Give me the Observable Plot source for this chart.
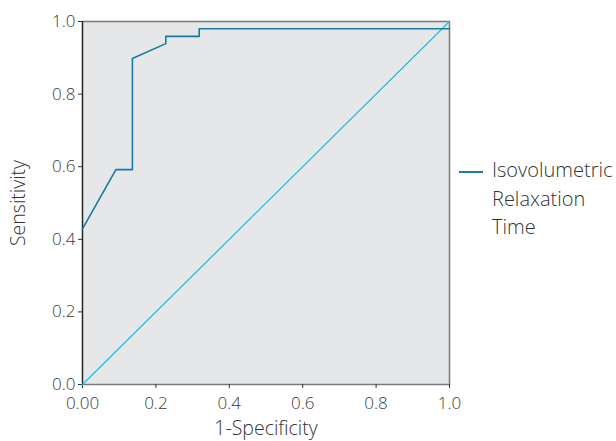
<!DOCTYPE html>
<html>
<head>
<meta charset="utf-8">
<script src="https://cdn.jsdelivr.net/npm/d3@7"></script>
<script src="https://cdn.jsdelivr.net/npm/@observablehq/plot@0.6"></script>
<style>
  html, body { margin: 0; padding: 0; background: #fff; }
  #wrap { position: relative; width: 616px; height: 441px; font-family: "Open Sans", sans-serif; font-weight: 300; }
  #legend { position: absolute; left: 459px; top: 156px; display: flex; align-items: flex-start; color: #333; font-size: 20px; line-height: 28.5px; white-space: nowrap; }
  #legend .sw { width: 24px; height: 0; border-top: 2px solid #1b7aa0; margin-top: 15px; margin-right: 9px; }
</style>
</head>
<body>
<div id="wrap"></div>
<script>
// ROC curve
const fpr  = [0.000, 0.091, 0.136, 0.136, 0.227, 0.227, 0.318, 0.318, 1.000];
const sens = [0.429, 0.592, 0.592, 0.898, 0.939, 0.959, 0.959, 0.980, 0.980];
const refX = [0, 1];
const refY = [0, 1];
const xTicks = [0, 0.2, 0.4, 0.6, 0.8, 1.0];
const xTickLabels = ["0.00", "0.2", "0.4", "0.6", "0.8", "1.0"];
const yTicks = [0, 0.2, 0.4, 0.6, 0.8, 1.0];
const yTickLabels = ["0.0", "0.2", "0.4", "0.6", "0.8", "1.0"];
const xTitle = "1-Specificity";
const yTitle = "Sensitivity";
const seriesName = ["Isovolumetric", "Relaxation", "Time"];

const roc = fpr.map((x, i) => ({x, y: sens[i]}));
const ref = refX.map((x, i) => ({x, y: refY[i]}));

const chart = Plot.plot({
  width: 616,
  height: 441,
  marginLeft: 82,
  marginRight: 167,
  marginTop: 21,
  marginBottom: 57,
  style: {fontFamily: "'Open Sans', sans-serif", fontWeight: 300, fontSize: "17px", color: "#3a3a3a", background: "#fff"},
  x: {domain: [0, 1]},
  y: {domain: [0, 1]},
  marks: [
    Plot.frame({fill: "#e6e7e8", stroke: "#7a7a7a", strokeWidth: 1.5}),
    Plot.axisX({ticks: xTicks, tickFormat: (d, i) => xTickLabels[i], tickSize: 4, tickPadding: 8, stroke: "#333",
      fill: "#3a3a3a", label: null, fontSize: 17}),
    Plot.axisY({ticks: yTicks, tickFormat: (d, i) => yTickLabels[i], tickSize: 4, tickPadding: 3, stroke: "#333",
      fill: "#3a3a3a", label: null, fontSize: 17}),
    Plot.text([xTitle], {frameAnchor: "bottom", lineAnchor: "middle", dy: 44, fontSize: 19.5, fill: "#333"}),
    Plot.text([yTitle], {frameAnchor: "left", textAnchor: "middle", lineAnchor: "middle", dx: -64, rotate: -90, fontSize: 19.5, fill: "#333"}),
    Plot.ruleX([0], {stroke: "#222", strokeWidth: 1.2}),
    Plot.line(ref, {x: "x", y: "y", stroke: "#29bde9", strokeWidth: 1.3}),
    Plot.line(roc, {x: "x", y: "y", stroke: "#1b7aa0", strokeWidth: 1.6})
  ]
});
document.getElementById("wrap").appendChild(chart);

const legend = document.createElement("div");
legend.id = "legend";
legend.innerHTML = `<div class="sw"></div><div>${seriesName.join("<br>")}</div>`;
document.getElementById("wrap").appendChild(legend);
</script>
</body>
</html>
